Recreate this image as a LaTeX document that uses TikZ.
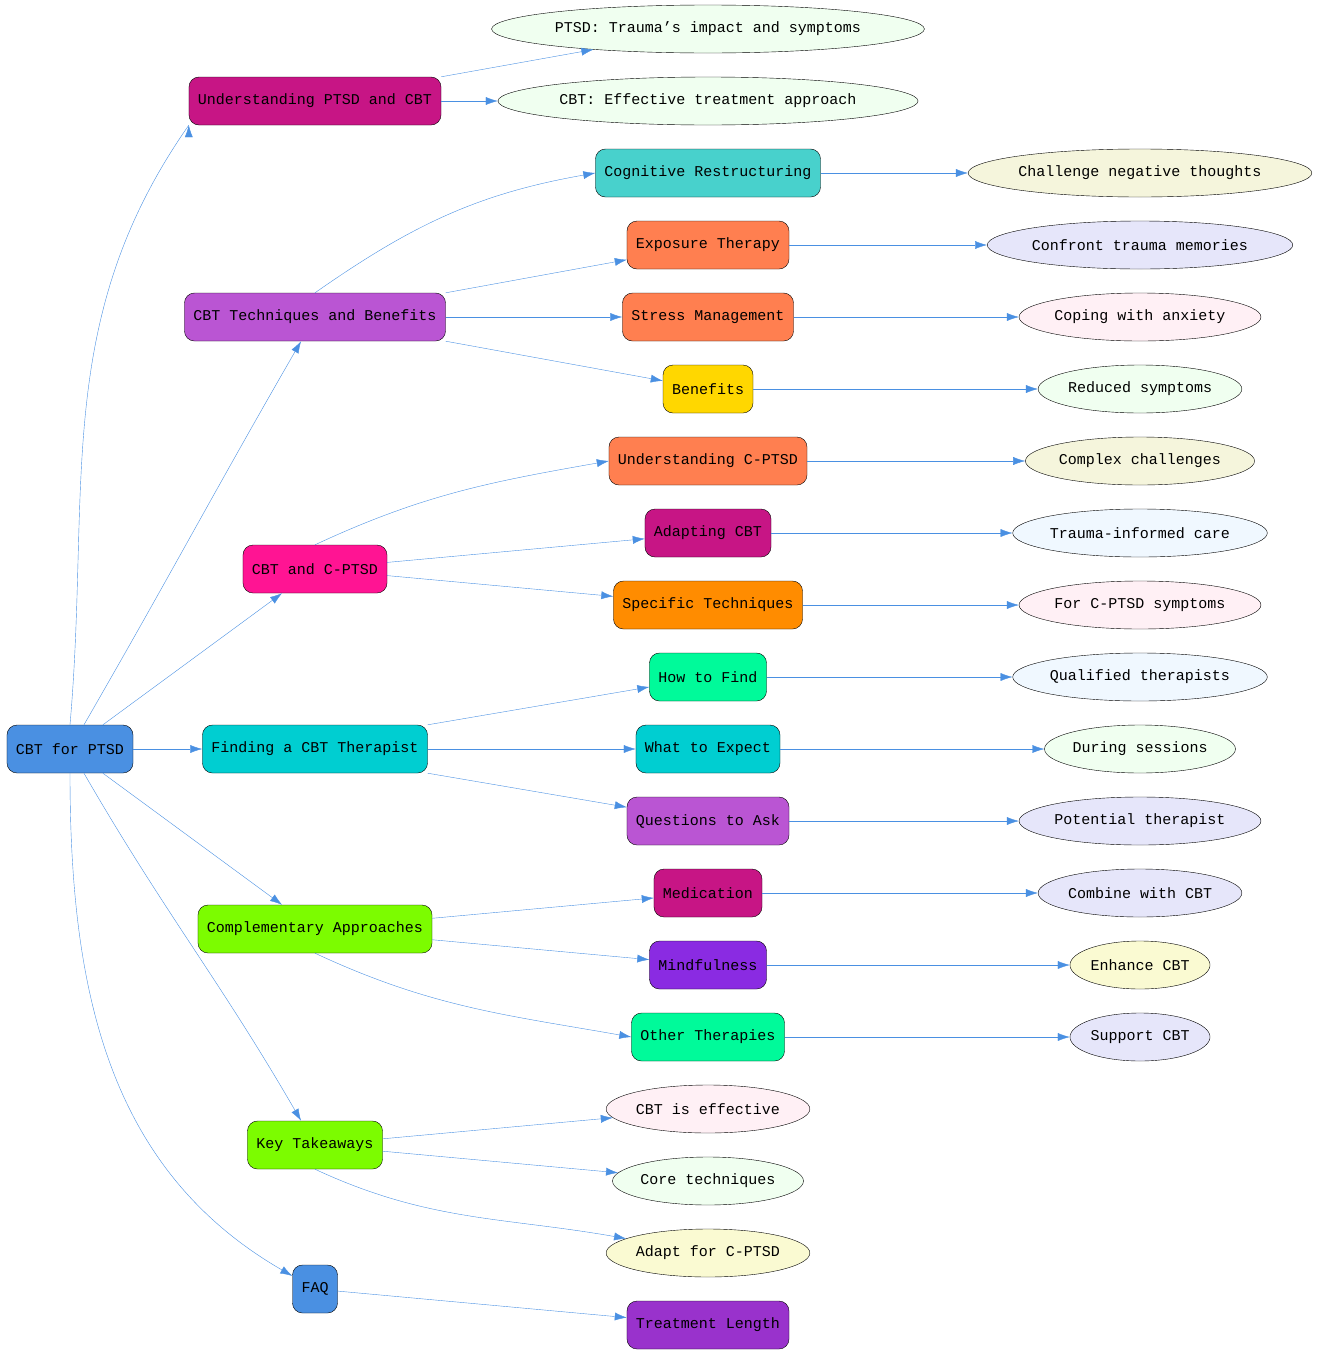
\documentclass[tikz,border=0pt]{standalone}
\usepackage{fontspec}
\setmainfont{Liberation Mono}
\usetikzlibrary{shapes.geometric,arrows.meta}
\definecolor{ec}{HTML}{4A90E2}
\tikzset{
 bx/.style={draw=black,rounded corners=10pt,minimum height=48pt,inner xsep=9pt,font=\fontsize{15pt}{15pt}\selectfont},
 el/.style={draw=black,ellipse,minimum height=48pt,inner xsep=0pt,inner ysep=2pt,font=\fontsize{15pt}{15pt}\selectfont},
 ar/.style={draw=ec,-{Latex[length=12pt,width=8pt]}}
}
\begin{document}
\begin{tikzpicture}[x=1pt,y=-1pt]
\useasboundingbox (0,0) rectangle (1317,1355);
\node[bx,fill=ec] (root) at (70,749) {CBT for PTSD};
\node[bx,fill={rgb,255:red,199;green,21;blue,133}] (u) at (315,101) {Understanding PTSD and CBT};
\node[bx,fill={rgb,255:red,186;green,85;blue,211}] (t) at (315,317) {CBT Techniques and Benefits};
\node[bx,fill={rgb,255:red,255;green,20;blue,147}] (c) at (315,569) {CBT and C-PTSD};
\node[bx,fill={rgb,255:red,0;green,206;blue,209}] (f) at (315,749) {Finding a CBT Therapist};
\node[bx,fill={rgb,255:red,124;green,252;blue,0}] (a) at (315,929) {Complementary Approaches};
\node[bx,fill={rgb,255:red,124;green,252;blue,0}] (k) at (315,1145) {Key Takeaways};
\node[bx,fill=ec] (q) at (315,1289) {FAQ};
% level 2
\node[bx,fill={rgb,255:red,72;green,209;blue,204}] (t1) at (708,173) {Cognitive Restructuring};
\node[bx,fill={rgb,255:red,255;green,127;blue,80}] (t2) at (708,245) {Exposure Therapy};
\node[bx,fill={rgb,255:red,255;green,127;blue,80}] (t3) at (708,317) {Stress Management};
\node[bx,fill={rgb,255:red,255;green,215;blue,0}] (t4) at (708,389) {Benefits};
\node[bx,fill={rgb,255:red,255;green,127;blue,80}] (c1) at (708,461) {Understanding C-PTSD};
\node[bx,fill={rgb,255:red,199;green,21;blue,133}] (c2) at (708,533) {Adapting CBT};
\node[bx,fill={rgb,255:red,255;green,140;blue,0}] (c3) at (708,605) {Specific Techniques};
\node[bx,fill={rgb,255:red,0;green,250;blue,154}] (f1) at (708,677) {How to Find};
\node[bx,fill={rgb,255:red,0;green,206;blue,209}] (f2) at (708,749) {What to Expect};
\node[bx,fill={rgb,255:red,186;green,85;blue,211}] (f3) at (708,821) {Questions to Ask};
\node[bx,fill={rgb,255:red,199;green,21;blue,133}] (a1) at (708,893) {Medication};
\node[bx,fill={rgb,255:red,138;green,43;blue,226}] (a2) at (708,965) {Mindfulness};
\node[bx,fill={rgb,255:red,0;green,250;blue,154}] (a3) at (708,1037) {Other Therapies};
\node[bx,fill={rgb,255:red,153;green,50;blue,204}] (q1) at (708,1325) {Treatment Length};
% ellipses
\definecolor{hd}{HTML}{F0FFF0}\definecolor{bg}{HTML}{F5F5DC}\definecolor{lv}{HTML}{E6E6FA}
\definecolor{lb}{HTML}{FFF0F5}\definecolor{ab}{HTML}{F0F8FF}\definecolor{ly}{HTML}{FAFAD2}
\node[el,fill=hd] (u1) at (708,29) {PTSD: Trauma's impact and symptoms};
\node[el,fill=hd] (u2) at (708,101) {CBT: Effective treatment approach};
\node[el,fill=bg] (e1) at (1140,173) {Challenge negative thoughts};
\node[el,fill=lv] (e2) at (1140,245) {Confront trauma memories};
\node[el,fill=lb] (e3) at (1140,317) {Coping with anxiety};
\node[el,fill=hd] (e4) at (1140,389) {Reduced symptoms};
\node[el,fill=bg] (e5) at (1140,461) {Complex challenges};
\node[el,fill=ab] (e6) at (1140,533) {Trauma-informed care};
\node[el,fill=lb] (e7) at (1140,605) {For C-PTSD symptoms};
\node[el,fill=ab] (e8) at (1140,677) {Qualified therapists};
\node[el,fill=hd] (e9) at (1140,749) {During sessions};
\node[el,fill=lv] (e10) at (1140,821) {Potential therapist};
\node[el,fill=lv] (e11) at (1140,893) {Combine with CBT};
\node[el,fill=ly] (e12) at (1140,965) {Enhance CBT};
\node[el,fill=lv] (e13) at (1140,1037) {Support CBT};
\node[el,fill=lb] (k1) at (708,1109) {CBT is effective};
\node[el,fill=hd] (k2) at (708,1181) {Core techniques};
\node[el,fill=ly] (k3) at (708,1253) {Adapt for C-PTSD};
% edges
\draw[ar] (root.north) to[out=85,in=-125] (u.south west|-u.south) ++(0,0);
\draw[ar] (root) to[out=60,in=-120] (t);
\draw[ar] (root) -- (c);
\draw[ar] (root) -- (f);
\draw[ar] (root) -- (a);
\draw[ar] (root) to[out=-60,in=120] (k);
\draw[ar] (root.south) to[out=-90,in=150] (q);
\draw[ar] (u.north east) -- (u1);
\draw[ar] (u) -- (u2);
\draw[ar] (t.north) to[out=35,in=190] (t1.west);
\draw[ar] (t.north east) -- (t2);
\draw[ar] (t) -- (t3);
\draw[ar] (t.south east) -- (t4);
\draw[ar] (c.north) to[out=25,in=190] (c1.west);
\draw[ar] (c) -- (c2);
\draw[ar] (c) -- (c3);
\draw[ar] (f.north east) -- (f1);
\draw[ar] (f) -- (f2);
\draw[ar] (f.south east) -- (f3);
\draw[ar] (a) -- (a1);
\draw[ar] (a) -- (a2);
\draw[ar] (a.south) to[out=-25,in=170] (a3.west);
\draw[ar] (k) -- (k1);
\draw[ar] (k) -- (k2);
\draw[ar] (k.south) to[out=-25,in=170] (k3);
\draw[ar] (q) -- (q1);
\draw[ar] (t1) -- (e1);
\draw[ar] (t2) -- (e2);
\draw[ar] (t3) -- (e3);
\draw[ar] (t4) -- (e4);
\draw[ar] (c1) -- (e5);
\draw[ar] (c2) -- (e6);
\draw[ar] (c3) -- (e7);
\draw[ar] (f1) -- (e8);
\draw[ar] (f2) -- (e9);
\draw[ar] (f3) -- (e10);
\draw[ar] (a1) -- (e11);
\draw[ar] (a2) -- (e12);
\draw[ar] (a3) -- (e13);
\end{tikzpicture}
\end{document}
